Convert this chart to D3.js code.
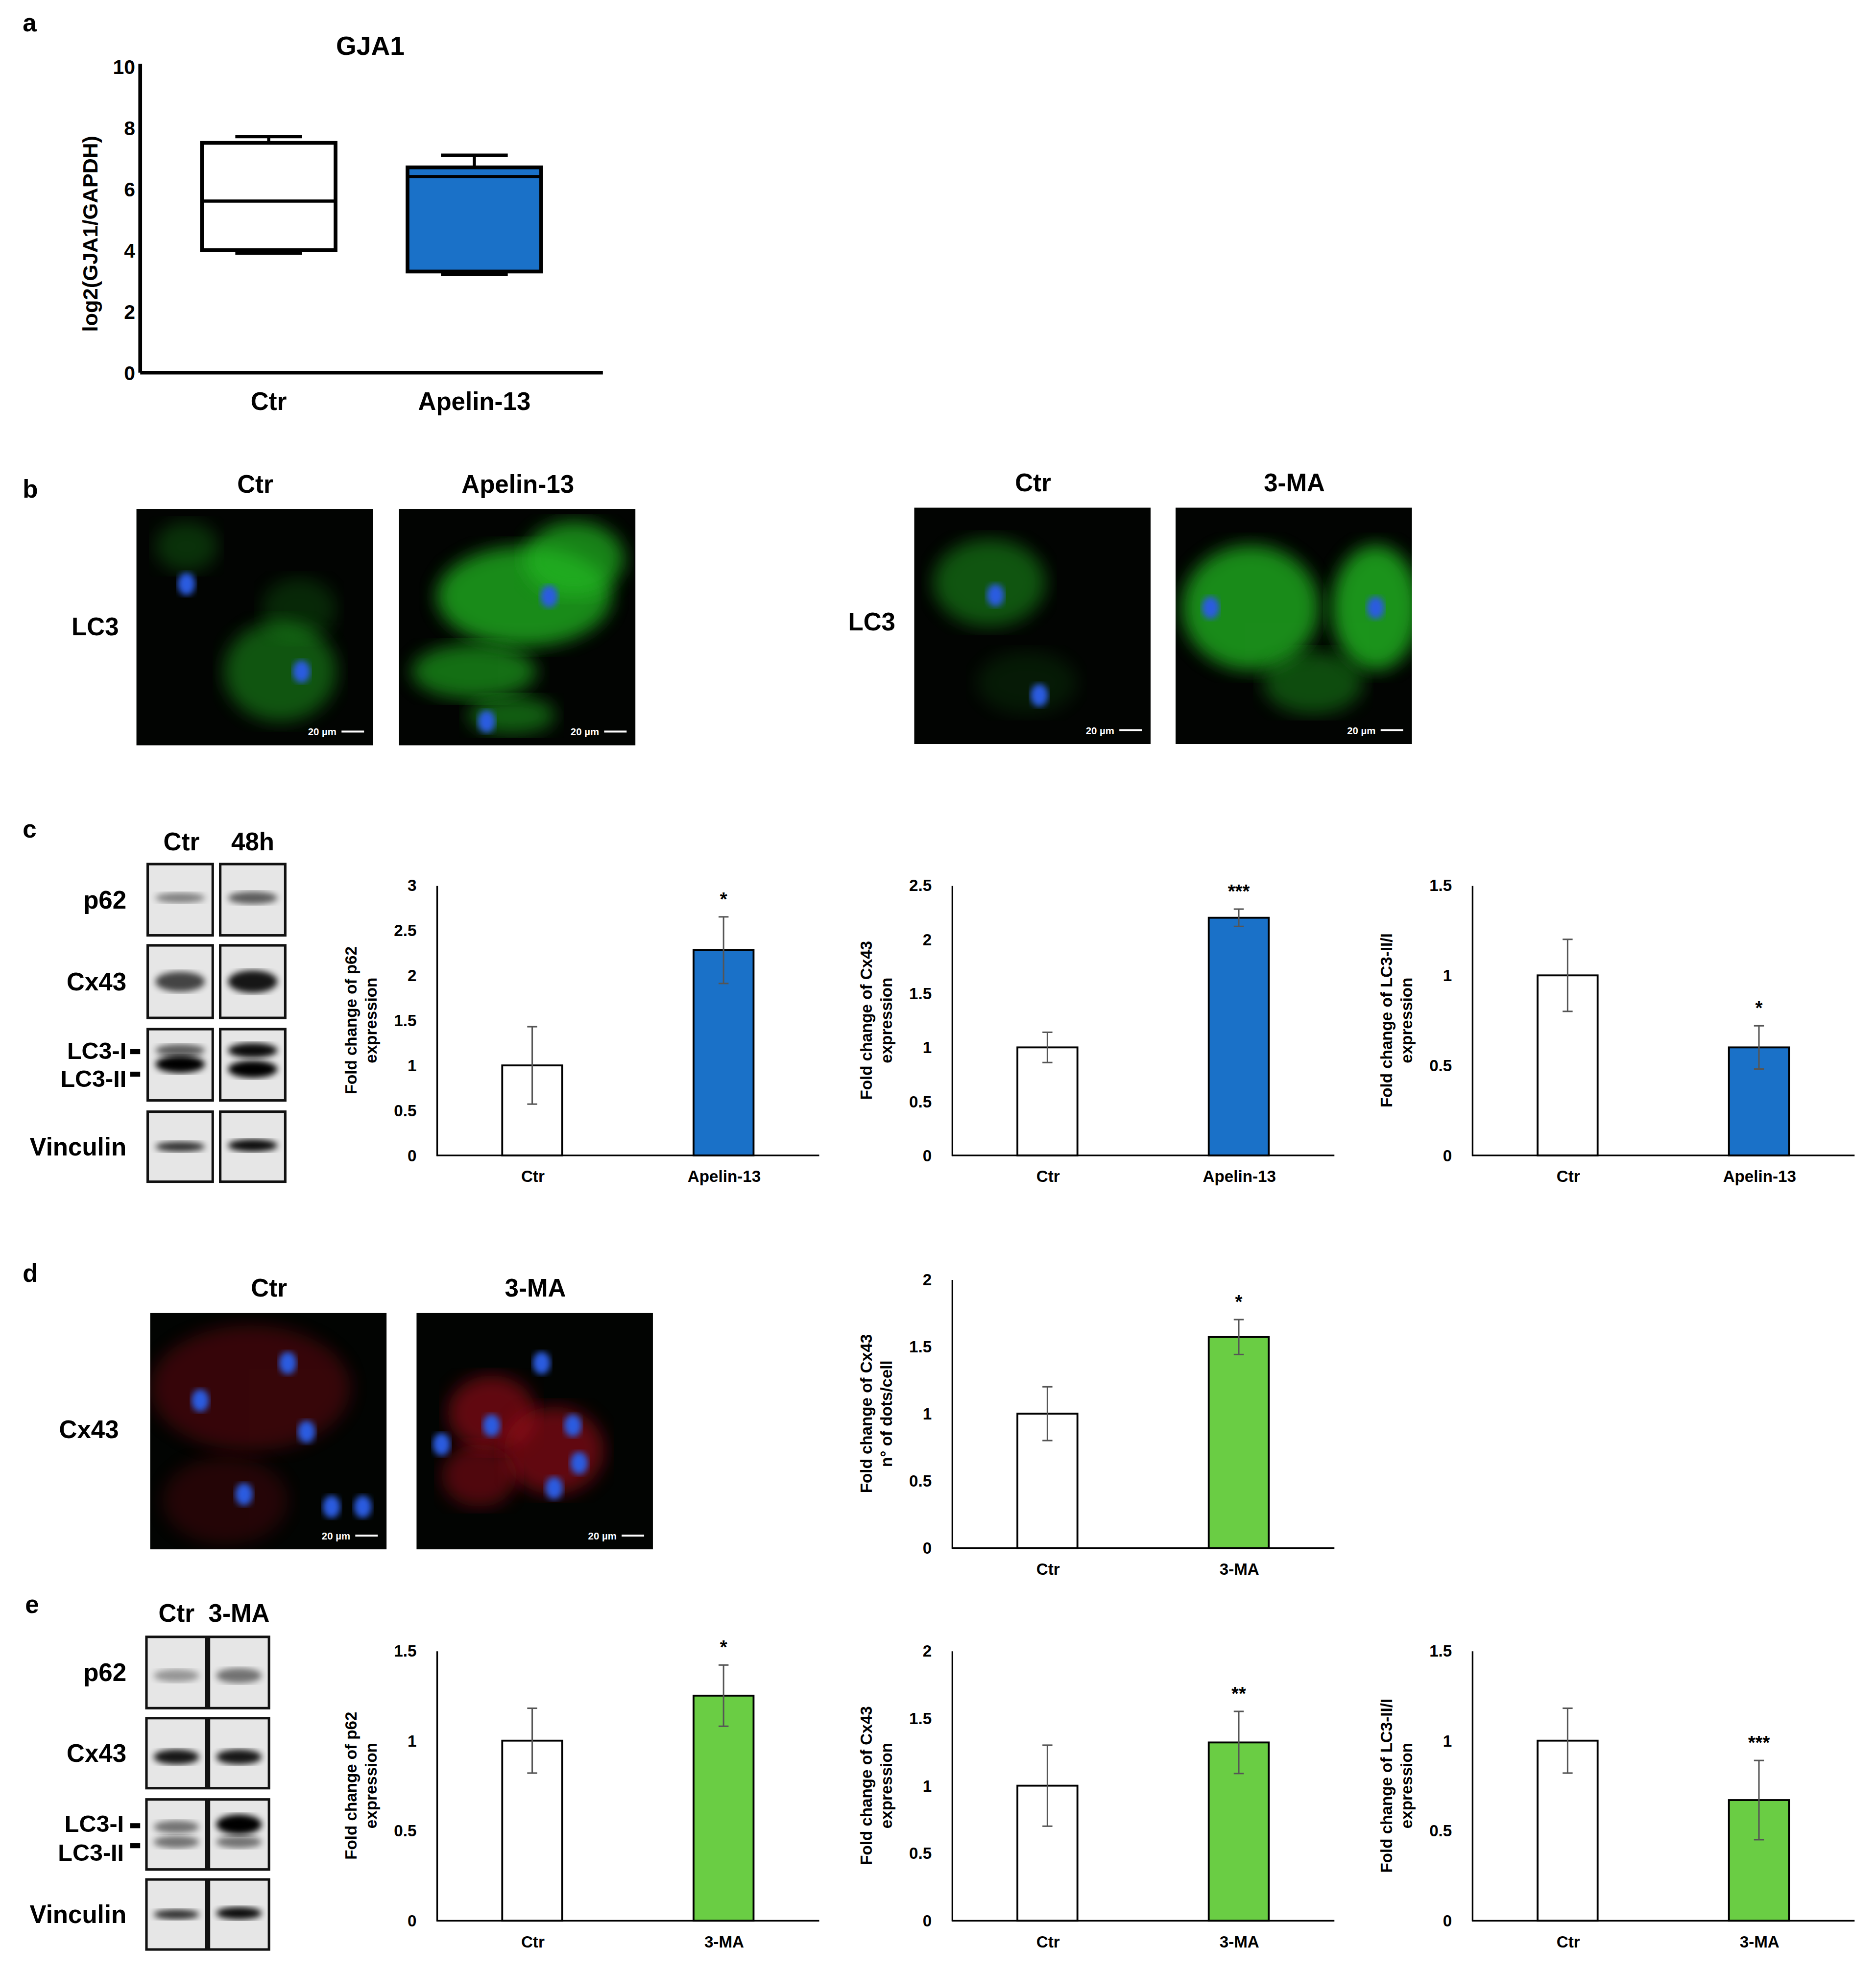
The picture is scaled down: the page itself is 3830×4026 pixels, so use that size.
<!DOCTYPE html>
<html><head><meta charset="utf-8">
<script src="https://cdn.jsdelivr.net/npm/d3@7"></script>
<style>body{margin:0;background:#fff}text{font-family:"Liberation Sans",Arial,sans-serif;font-weight:bold}</style>
</head><body><svg id="fig"></svg>
<script>
// panel a box plot
var boxGroups = ["Ctr","Apelin-13"]
var boxStats = [[3.9,4.0,5.6,7.5,7.7],[3.2,3.3,6.4,6.7,7.1]]
var boxTicks = [0,2,4,6,8,10]

// bar panels: categories, means, errors, stars
var catApelin = ["Ctr","Apelin-13"]
var cat3MA = ["Ctr","3-MA"]
var cP62 = [1,2.28], cP62Err = [0.43,0.37]
var cCx43 = [1,2.2], cCx43Err = [0.14,0.08]
var cLC3 = [1,0.6], cLC3Err = [0.2,0.12]
var dDots = [1,1.57], dDotsErr = [0.2,0.13]
var eP62 = [1,1.25], eP62Err = [0.18,0.17]
var eCx43 = [1,1.32], eCx43Err = [0.3,0.23]
var eLC3 = [1,0.67], eLC3Err = [0.18,0.22]

var BLUE="#1a71c8", GREEN="#6acd44"
var svg=d3.select("#fig").attr("width",3830).attr("height",4026).attr("viewBox","0 0 1500 1577")
var defs=svg.append("defs")
defs.append("filter").attr("id","blur").append("feGaussianBlur").attr("stdDeviation",7)
defs.append("filter").attr("id","blur2").append("feGaussianBlur").attr("stdDeviation",2.5)

function txt(x,y,s,size,anchor){return svg.append("text").attr("x",x).attr("y",y).attr("font-size",size).attr("text-anchor",anchor||"middle").text(s)}

// panel letters
txt(18,25,"a",20,"start");txt(18,398,"b",20,"start");txt(18,670,"c",20,"start");txt(18,1025,"d",20,"start");txt(20,1290,"e",20,"start")

// ---- panel a
var ay=d3.scaleLinear().domain([0,10]).range([298,53])
var ax=d3.scaleBand().domain(boxGroups).range([112,482]).paddingInner(0.35).paddingOuter(0.3)
var ga=svg.append("g")
ga.append("line").attr("x1",112).attr("x2",482).attr("y1",298).attr("y2",298).attr("stroke","#000").attr("stroke-width",3)
ga.append("line").attr("x1",112).attr("x2",112).attr("y1",298).attr("y2",51).attr("stroke","#000").attr("stroke-width",3)
boxTicks.forEach(function(t){txt(108,ay(t)+6,t,16,"end").attr("font-family","Liberation Sans Narrow")})
txt(296,44,"GJA1",21)
txt(0,0,"log2(GJA1/GAPDH)",17).attr("transform","translate(78,187) rotate(-90)")
boxGroups.forEach(function(g,i){
  var s=boxStats[i],x0=ax(g),w=ax.bandwidth(),cx=x0+w/2
  ga.append("line").attr("x1",cx).attr("x2",cx).attr("y1",ay(s[4])).attr("y2",ay(s[0])).attr("stroke","#000").attr("stroke-width",2.5)
  ;[s[0],s[4]].forEach(function(v){ga.append("line").attr("x1",cx-w*0.25).attr("x2",cx+w*0.25).attr("y1",ay(v)).attr("y2",ay(v)).attr("stroke","#000").attr("stroke-width",2.5)})
  ga.append("rect").attr("x",x0).attr("width",w).attr("y",ay(s[3])).attr("height",ay(s[1])-ay(s[3])).attr("fill",i?BLUE:"#fff").attr("stroke","#000").attr("stroke-width",3)
  ga.append("line").attr("x1",x0).attr("x2",x0+w).attr("y1",ay(s[2])).attr("y2",ay(s[2])).attr("stroke","#000").attr("stroke-width",2.5)
  txt(cx,328,g,20).attr("font-family","Liberation Sans Narrow")
})

// ---- micrographs (decorative)
function micro(x,y,col,blobs,nuclei,label){
  var g=svg.append("g")
  g.append("rect").attr("x",x).attr("y",y).attr("width",189).attr("height",189).attr("fill","#020402")
  var cp="cp"+x+"_"+y
  defs.append("clipPath").attr("id",cp).append("rect").attr("x",x).attr("y",y).attr("width",189).attr("height",189)
  var gg=g.append("g").attr("clip-path","url(#"+cp+")")
  blobs.forEach(function(b){gg.append("ellipse").attr("cx",x+b[0]).attr("cy",y+b[1]).attr("rx",b[2]).attr("ry",b[3]).attr("fill",col).attr("opacity",b[4]).attr("filter","url(#blur)")})
  nuclei.forEach(function(n){gg.append("ellipse").attr("cx",x+n[0]).attr("cy",y+n[1]).attr("rx",7).attr("ry",9).attr("fill","#2a5be0").attr("filter","url(#blur2)")})
  g.append("line").attr("x1",x+164).attr("x2",x+182).attr("y1",y+178).attr("y2",y+178).attr("stroke","#fff").attr("stroke-width",1.5)
  g.append("text").attr("x",x+160).attr("y",y+181).attr("font-size",8).attr("text-anchor","end").attr("fill","#fff").text("20 µm")
  if(label)txt(x+95,y-13,label,20)
}
var G="#22b822"
micro(109,407,G,[[40,30,25,20,.25],[115,130,45,40,.45],[130,80,30,25,.2]],[[40,60],[132,130]],"Ctr")
micro(319,407,G,[[100,70,70,40,.75],[60,130,50,22,.6],[140,40,40,30,.7],[90,165,35,15,.5]],[[120,70],[70,170]],"Apelin-13")
micro(731,406,G,[[60,60,45,35,.45],[90,140,40,25,.12]],[[65,70],[100,150]],"Ctr")
micro(940,406,G,[[60,80,55,50,.75],[160,80,35,50,.8],[110,140,40,25,.4]],[[28,80],[160,80]],"3-MA")
txt(76,508,"LC3",20);txt(697,504,"LC3",20)
var R="#b0101a"
micro(120,1050,R,[[80,60,80,50,.3],[60,150,50,35,.2]],[[40,70],[110,40],[125,95],[75,145],[145,155],[170,155]],"Ctr")
micro(333,1050,R,[[60,80,35,30,.55],[110,110,40,35,.55],[50,130,30,25,.45]],[[100,40],[20,105],[60,90],[125,90],[130,120],[110,140]],"3-MA")
txt(71,1150,"Cx43",20)

// ---- western blots (decorative)
function blot(x,y,w,h,bands){
  var g=svg.append("g")
  g.append("rect").attr("x",x).attr("y",y).attr("width",w).attr("height",h).attr("fill","#e6e6e6").attr("stroke","#111").attr("stroke-width",2)
  bands.forEach(function(b){g.append("ellipse").attr("cx",x+w/2).attr("cy",y+b[0]).attr("rx",w*0.38).attr("ry",b[1]).attr("fill","#000").attr("opacity",b[2]).attr("filter","url(#blur2)")})
}
var cRows=[[691,57,"p62",[[[27,4,.45]],[[27,5,.6]]]],[756,58,"Cx43",[[[29,8,.7]],[[29,9,.9]]]],[823,57,"",[[[17,5,.6],[28,7,1]],[[17,6,.95],[32,7,1]]]],[889,56,"Vinculin",[[[28,4,.8]],[[27,5,.95]]]]]
cRows.forEach(function(r){blot(118,r[0],52,r[1],r[3][0]);blot(176,r[0],52,r[1],r[3][1]);if(r[2])txt(101,r[0]+r[1]/2+7,r[2],20,"end")})
txt(145,680,"Ctr",20);txt(202,680,"48h",20)
txt(101,847,"LC3-I",19,"end");txt(101,869,"LC3-II",19,"end")
svg.append("rect").attr("x",104).attr("y",839).attr("width",8).attr("height",4);svg.append("rect").attr("x",104).attr("y",857).attr("width",8).attr("height",4)
var eRows=[[1309,57,"p62",[[[31,5,.35]],[[31,6,.5]]]],[1374,56,"Cx43",[[[31,6,.9]],[[31,6,.9]]]],[1439,56,"",[[[22,5,.5],[34,5,.5]],[[20,8,1],[34,5,.5]]]],[1503,56,"Vinculin",[[[28,4,.8]],[[27,5,.95]]]]]
eRows.forEach(function(r){blot(117,r[0],48,r[1],r[3][0]);blot(167,r[0],48,r[1],r[3][1]);if(r[2])txt(101,r[0]+r[1]/2+7,r[2],20,"end")})
txt(141,1297,"Ctr",20);txt(191,1297,"3-MA",20)
txt(99,1465,"LC3-I",19,"end");txt(99,1488,"LC3-II",19,"end")
svg.append("rect").attr("x",104).attr("y",1458).attr("width",8).attr("height",4);svg.append("rect").attr("x",104).attr("y",1474).attr("width",8).attr("height",4)

// ---- bar charts
function bars(ox,y0,y1,cats,vals,errs,maxV,ticks,fmt,lab,star,col){
  var y=d3.scaleLinear().domain([0,maxV]).range([y0,y1])
  var x=d3.scalePoint().domain(cats).range([ox,ox+306]).padding(0.5)
  var bw=48
  var g=svg.append("g")
  var yA=g.append("g").attr("transform","translate("+ox+",0)").call(d3.axisLeft(y).tickValues(ticks).tickSize(0).tickPadding(16).tickFormat(fmt))
  yA.select(".domain").attr("stroke-width",1.3)
  yA.selectAll("text").attr("font-size",13).attr("font-family","Liberation Sans Narrow").attr("font-weight","bold")
  var xA=g.append("g").attr("transform","translate(0,"+y0+")").call(d3.axisBottom(x).tickSize(0).tickPadding(12))
  xA.select(".domain").attr("d","M"+ox+",0H"+(ox+306)).attr("stroke-width",1.3)
  xA.selectAll("text").attr("font-size",13).attr("font-weight","bold")
  cats.forEach(function(c,i){
    var cx=x(c)
    g.append("rect").attr("x",cx-bw/2).attr("width",bw).attr("y",y(vals[i])).attr("height",y0-y(vals[i])).attr("fill",i?col:"#fff").attr("stroke","#000").attr("stroke-width",1.5)
    var lo=y(vals[i]-errs[i]),hi=y(vals[i]+errs[i])
    g.append("line").attr("x1",cx).attr("x2",cx).attr("y1",lo).attr("y2",hi).attr("stroke","#555").attr("stroke-width",1.2)
    ;[lo,hi].forEach(function(v){g.append("line").attr("x1",cx-4).attr("x2",cx+4).attr("y1",v).attr("y2",v).attr("stroke","#555").attr("stroke-width",1.2)})
    if(i==1)g.append("text").attr("x",cx).attr("y",hi-9).attr("text-anchor","middle").attr("font-size",15).text(star)
  })
  var t=g.append("text").attr("transform","translate("+(ox-64)+","+((y0+y1)/2)+") rotate(-90)").attr("text-anchor","middle").attr("font-size",13)
  t.append("tspan").attr("x",0).attr("dy",0).text(lab[0]);t.append("tspan").attr("x",0).attr("dy",16).text(lab[1])
}
var f1=d3.format("")
bars(349,924,708,catApelin,cP62,cP62Err,3,[0,.5,1,1.5,2,2.5,3],f1,["Fold change of p62","expression"],"*",BLUE)
bars(761,924,708,catApelin,cCx43,cCx43Err,2.5,[0,.5,1,1.5,2,2.5],f1,["Fold change of Cx43","expression"],"***",BLUE)
bars(1177,924,708,catApelin,cLC3,cLC3Err,1.5,[0,.5,1,1.5],f1,["Fold change of LC3-II/I","expression"],"*",BLUE)
bars(761,1238,1023,cat3MA,dDots,dDotsErr,2,[0,.5,1,1.5,2],f1,["Fold change of Cx43","n° of dots/cell"],"*",GREEN)
bars(349,1536,1320,cat3MA,eP62,eP62Err,1.5,[0,.5,1,1.5],f1,["Fold change of p62","expression"],"*",GREEN)
bars(761,1536,1320,cat3MA,eCx43,eCx43Err,2,[0,.5,1,1.5,2],f1,["Fold change of Cx43","expression"],"**",GREEN)
bars(1177,1536,1320,cat3MA,eLC3,eLC3Err,1.5,[0,.5,1,1.5],f1,["Fold change of LC3-II/I","expression"],"***",GREEN)
</script></body></html>
